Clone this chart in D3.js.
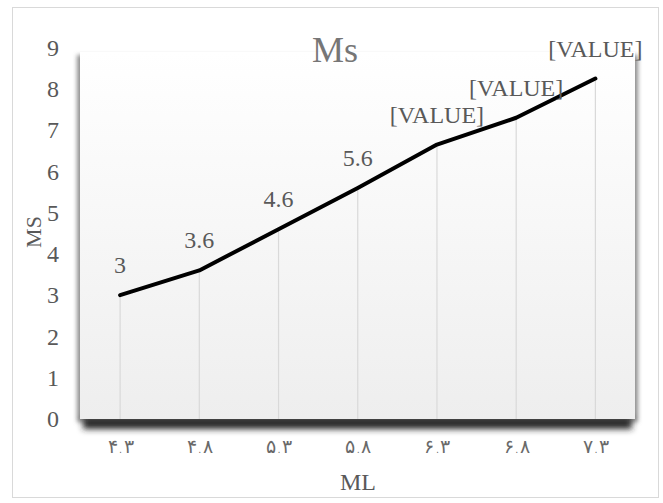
<!DOCTYPE html>
<html>
<head>
<meta charset="utf-8">
<script src="https://cdn.jsdelivr.net/npm/d3@7"></script>
<style>
  html, body { margin: 0; padding: 0; background: #fff; }
  svg { display: block; }
</style>
</head>
<body>
<svg id="chart" width="663" height="503"></svg>
<script>
// Category labels (ML) and the Ms series
const categories = ["4.3", "4.8", "5.3", "5.8", "6.3", "6.8", "7.3"];
const tickLabels = ["۴.۳", "۴.۸", "۵.۳", "۵.۸", "۶.۳", "۶.۸", "۷.۳"];
const msValues = [3, 3.6, 4.6, 5.6, 6.65, 7.3, 8.25];
const pointLabels = ["3", "3.6", "4.6", "5.6", "[VALUE]", "[VALUE]", "[VALUE]"];
const yTicks = [0, 1, 2, 3, 4, 5, 6, 7, 8, 9];

const svg = d3.select("#chart");
const serif = "'Liberation Serif', 'Times New Roman', serif";
const textColor = "#595959";

const plot = { left: 80, right: 635, top: 52, bottom: 419 };

const x = d3.scalePoint().domain(categories).range([plot.left + 0.5, plot.right]).padding(0.5);
const y = d3.scaleLinear().domain([0, 9]).range([419, 47.6]);

const defs = svg.append("defs");
const grad = defs.append("linearGradient").attr("id", "plotFill")
  .attr("x1", 0).attr("y1", 0).attr("x2", 0).attr("y2", 1);
grad.append("stop").attr("offset", "0%").attr("stop-color", "#ffffff");
grad.append("stop").attr("offset", "100%").attr("stop-color", "#eeeeee");

defs.append("filter").attr("id", "soft").attr("x", "-10%").attr("y", "-10%")
  .attr("width", "120%").attr("height", "140%")
  .append("feGaussianBlur").attr("stdDeviation", 2.2);
defs.append("filter").attr("id", "floorBlur").attr("x", "-5%").attr("y", "-80%")
  .attr("width", "110%").attr("height", "360%")
  .append("feGaussianBlur").attr("stdDeviation", 3);

// chart border
svg.append("rect")
  .attr("x", 12.5).attr("y", 7.5).attr("width", 646).attr("height", 490)
  .attr("fill", "#fff").attr("stroke", "#d9d9d9").attr("stroke-width", 1);

// side shadow of the plot wall
svg.append("rect")
  .attr("x", plot.left - 3).attr("y", plot.top + 3)
  .attr("width", plot.right - plot.left + 6).attr("height", plot.bottom - plot.top)
  .attr("fill", "#8f8f8f").attr("filter", "url(#soft)");

// floor shadow
svg.append("rect")
  .attr("x", plot.left + 3).attr("y", plot.bottom - 2)
  .attr("width", plot.right - plot.left - 6).attr("height", 12)
  .attr("fill", "#262626").attr("filter", "url(#floorBlur)");

// plot wall
svg.append("rect")
  .attr("x", plot.left).attr("y", plot.top)
  .attr("width", plot.right - plot.left).attr("height", plot.bottom - plot.top)
  .attr("fill", "url(#plotFill)");

// drop lines from each point to the floor
svg.append("g").selectAll("line")
  .data(msValues)
  .join("line")
  .attr("x1", (d, i) => x(categories[i]))
  .attr("x2", (d, i) => x(categories[i]))
  .attr("y1", d => y(d))
  .attr("y2", y(0))
  .attr("stroke", "#d9d9d9")
  .attr("stroke-width", 1.2);

// y axis labels
const yAxis = svg.append("g")
  .attr("transform", `translate(${plot.left},0)`)
  .call(d3.axisLeft(y).tickValues(yTicks).tickSize(0).tickPadding(21).tickFormat(d3.format("d")));
yAxis.select(".domain").remove();
yAxis.selectAll("text")
  .attr("font-family", serif).attr("font-size", 24).attr("fill", textColor);

// x axis labels
const xAxis = svg.append("g")
  .attr("transform", `translate(0,439)`)
  .call(d3.axisBottom(x).tickSize(0).tickPadding(0).tickFormat((d, i) => tickLabels[i]));
xAxis.select(".domain").remove();
xAxis.selectAll("text")
  .attr("font-family", "'DejaVu Sans', 'Noto Sans', sans-serif")
  .attr("font-size", 19).attr("font-weight", 200)
  .attr("letter-spacing", 2)
  .attr("fill", "#6a6a6a");

// series line
const line = d3.line()
  .x((d, i) => x(categories[i]))
  .y(d => y(d));
svg.append("path")
  .datum(msValues)
  .attr("d", line)
  .attr("fill", "none")
  .attr("stroke", "#000")
  .attr("stroke-width", 4)
  .attr("stroke-linejoin", "round")
  .attr("stroke-linecap", "round");

// data labels
svg.append("g").selectAll("text")
  .data(msValues)
  .join("text")
  .attr("x", (d, i) => x(categories[i]))
  .attr("y", d => y(d) - 22)
  .attr("text-anchor", "middle")
  .attr("font-family", serif)
  .attr("font-size", 24)
  .attr("fill", textColor)
  .text((d, i) => pointLabels[i]);

// title
svg.append("text")
  .attr("x", 335).attr("y", 62)
  .attr("text-anchor", "middle")
  .attr("font-family", serif).attr("font-size", 36)
  .attr("fill", "#767676")
  .text("Ms");

// axis titles
svg.append("text")
  .attr("x", 358).attr("y", 490)
  .attr("text-anchor", "middle")
  .attr("font-family", serif).attr("font-size", 24)
  .attr("fill", textColor)
  .text("ML");

svg.append("text")
  .attr("transform", "translate(41,232) rotate(-90)")
  .attr("text-anchor", "middle")
  .attr("font-family", serif).attr("font-size", 22)
  .attr("fill", textColor)
  .text("MS");
</script>
</body>
</html>
